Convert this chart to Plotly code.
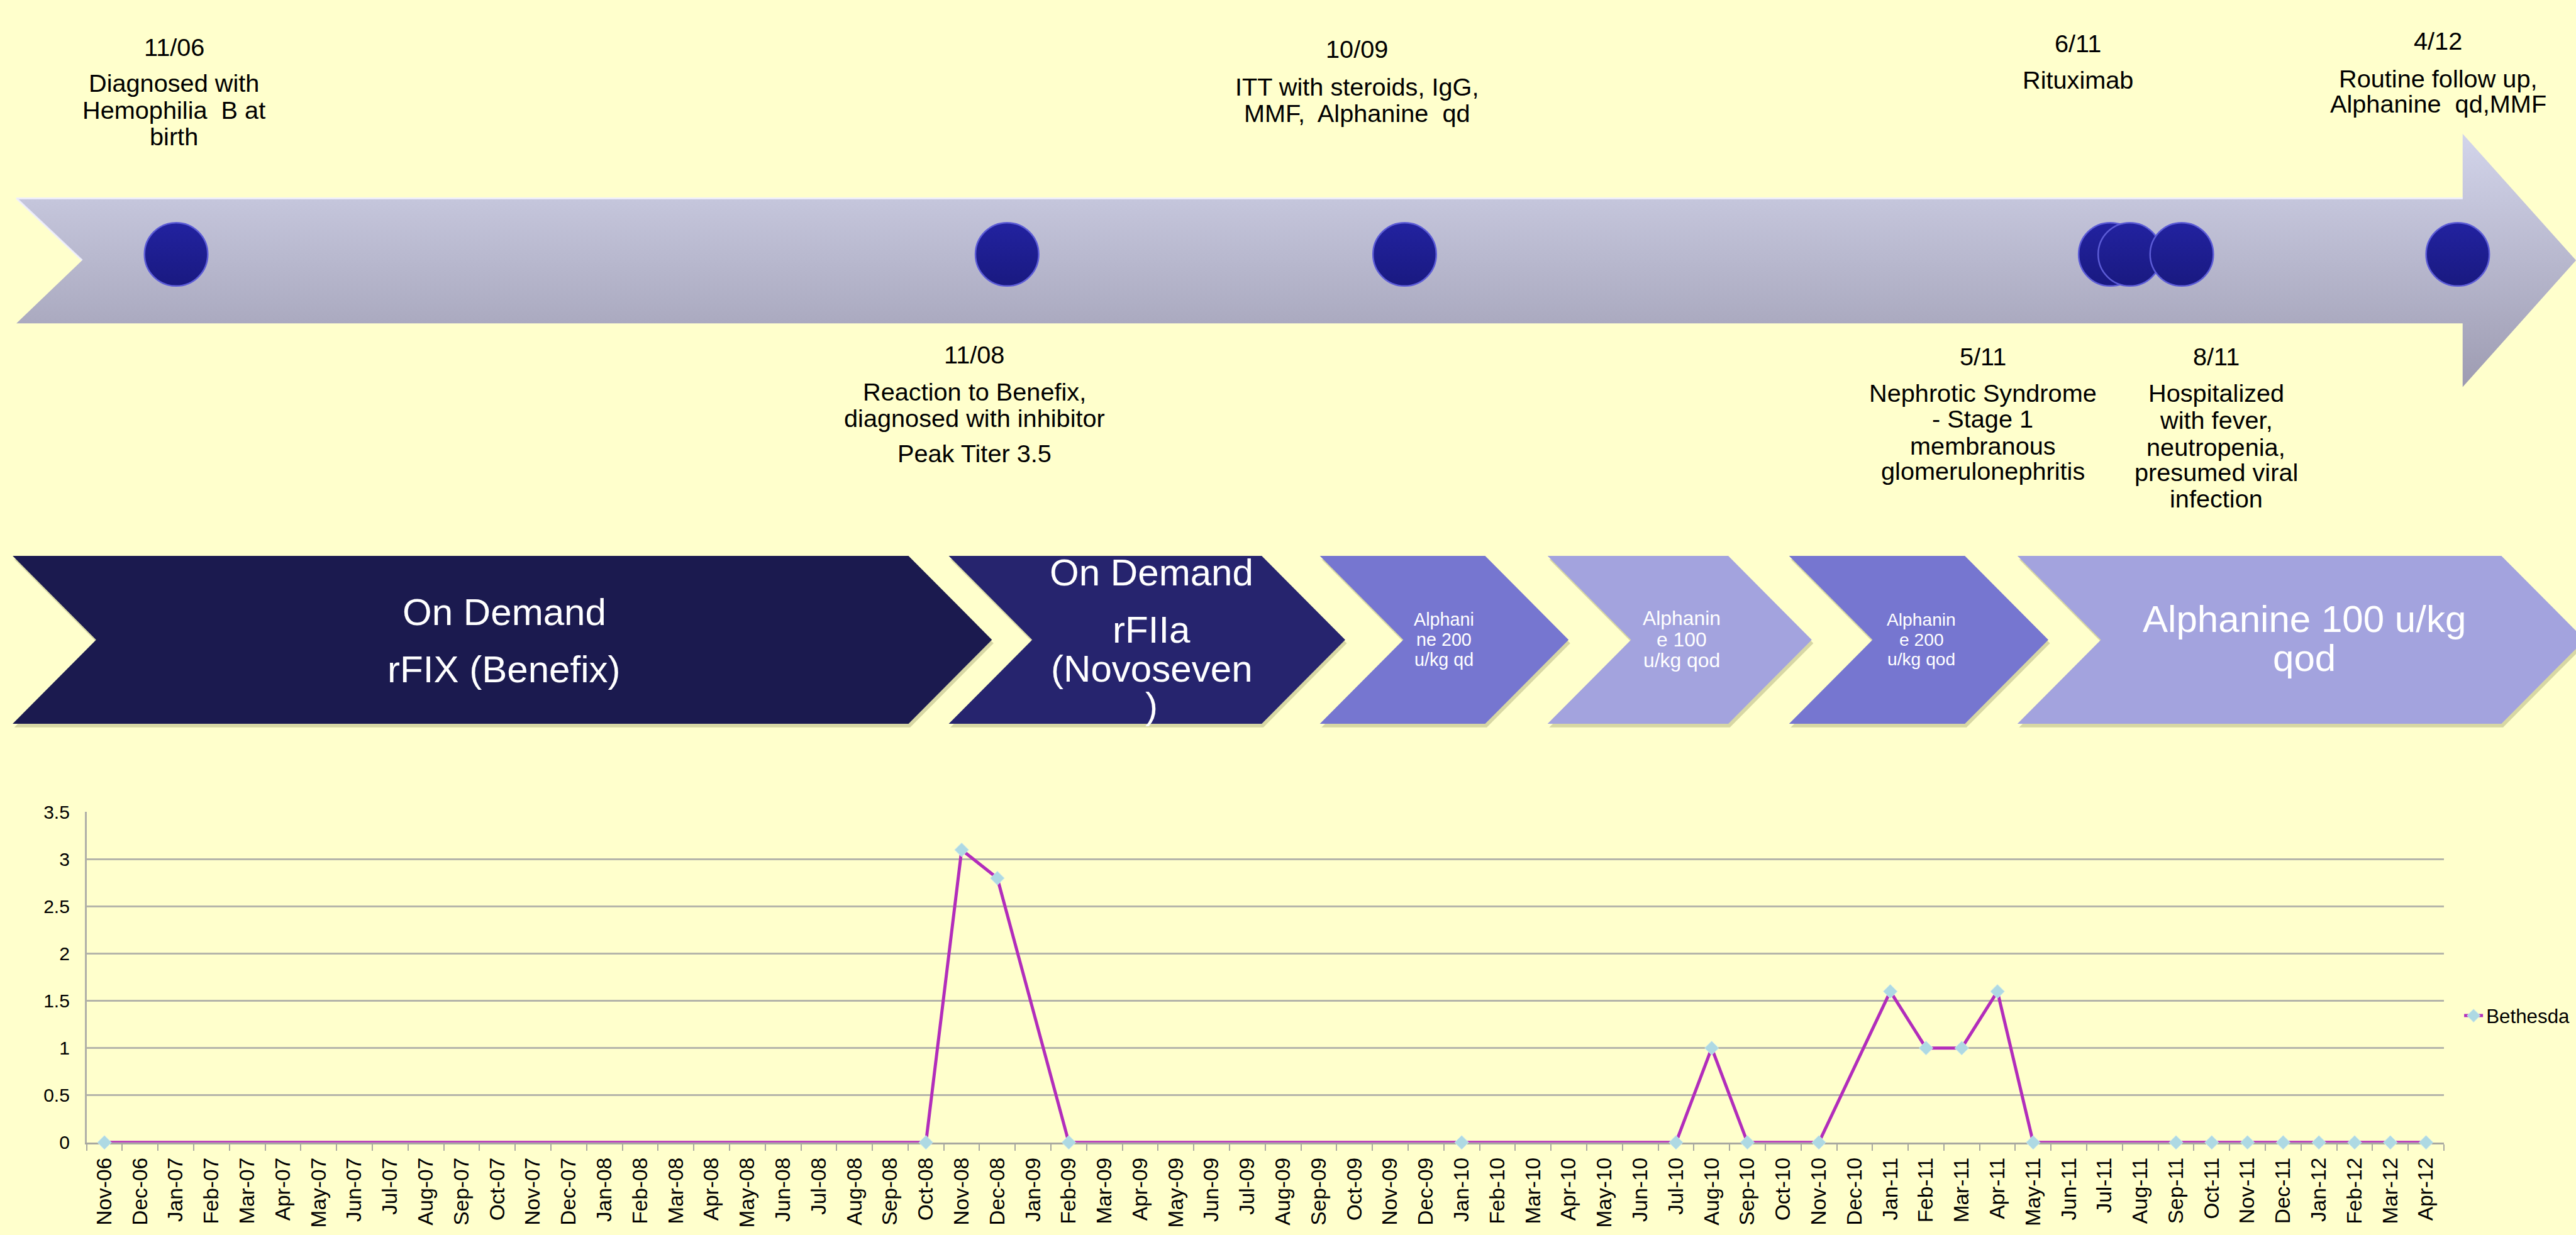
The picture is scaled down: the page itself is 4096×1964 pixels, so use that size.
import plotly.graph_objects as go

# ---------------- figure geometry (design units = 1568 x 752) ----------------
W, H = 4096, 1964
SW, SH = 1568.0, 752.0
K = W / SW
FONT = "Liberation Sans, Arial, sans-serif"
BG = "#FFFFCC"

# ---------------- data ----------------
months = ["Nov-06", "Dec-06", "Jan-07", "Feb-07", "Mar-07", "Apr-07", "May-07", "Jun-07",
          "Jul-07", "Aug-07", "Sep-07", "Oct-07", "Nov-07", "Dec-07", "Jan-08", "Feb-08",
          "Mar-08", "Apr-08", "May-08", "Jun-08", "Jul-08", "Aug-08", "Sep-08", "Oct-08",
          "Nov-08", "Dec-08", "Jan-09", "Feb-09", "Mar-09", "Apr-09", "May-09", "Jun-09",
          "Jul-09", "Aug-09", "Sep-09", "Oct-09", "Nov-09", "Dec-09", "Jan-10", "Feb-10",
          "Mar-10", "Apr-10", "May-10", "Jun-10", "Jul-10", "Aug-10", "Sep-10", "Oct-10",
          "Nov-10", "Dec-10", "Jan-11", "Feb-11", "Mar-11", "Apr-11", "May-11", "Jun-11",
          "Jul-11", "Aug-11", "Sep-11", "Oct-11", "Nov-11", "Dec-11", "Jan-12", "Feb-12",
          "Mar-12", "Apr-12"]

test_months = ["Nov-06", "Oct-08", "Nov-08", "Dec-08", "Feb-09", "Jan-10", "Jul-10", "Aug-10",
               "Sep-10", "Nov-10", "Jan-11", "Feb-11", "Mar-11", "Apr-11", "May-11", "Sep-11",
               "Oct-11", "Nov-11", "Dec-11", "Jan-12", "Feb-12", "Mar-12", "Apr-12"]
bethesda = [0, 0, 3.1, 2.8, 0, 0, 0, 1, 0, 0, 1.6, 1, 1, 1.6, 0, 0, 0, 0, 0, 0, 0, 0, 0]
series_name = "Bethesda"
y_ticks = [0, 0.5, 1, 1.5, 2, 2.5, 3, 3.5]
y_ticktext = ["0", "0.5", "1", "1.5", "2", "2.5", "3", "3.5"]

# timeline events (above / below the arrow)
event_dates = ["11/06", "11/08", "10/09", "5/11", "6/11", "8/11", "4/12"]
event_text = [
    ["Diagnosed with", "Hemophilia  B at", "birth"],
    ["Reaction to Benefix,", "diagnosed with inhibitor", "Peak Titer 3.5"],
    ["ITT with steroids, IgG,", "MMF,  Alphanine  qd"],
    ["Nephrotic Syndrome", "- Stage 1", "membranous", "glomerulonephritis"],
    ["Rituximab"],
    ["Hospitalized", "with fever,", "neutropenia,", "presumed viral", "infection"],
    ["Routine follow up,", "Alphanine  qd,MMF"],
]

# treatment phases
phase_text = [
    ["On Demand", "rFIX (Benefix)"],
    ["On Demand", "rFIIa", "(Novoseven", ")"],
    ["Alphani", "ne 200", "u/kg qd"],
    ["Alphanin", "e 100", "u/kg qod"],
    ["Alphanin", "e 200", "u/kg qod"],
    ["Alphanine 100 u/kg", "qod"],
]

# ---------------- layout constants (design units) ----------------
event_pos = [
    (106, 23.0, [45.2, 62.0, 78.4]),
    (593, 213.3, [236.3, 252.6, 274.6]),
    (826, 24.2, [47.4, 63.9]),
    (1207, 214.6, [237.0, 253.2, 270.0, 285.6]),
    (1265, 20.8, [43.4]),
    (1349, 214.6, [237.0, 254.0, 270.6, 286.4, 302.6]),
    (1484, 19.0, [42.4, 58.2]),
]
dot_x = [107.2, 613, 855, 1284.5, 1296.4, 1328, 1496]
dot_y = 151.3

top, bot, mid = 338.0, 442.0, 390.0
depth = 50.8
phase_left = [7.7, 577.5, 803.4, 942.0, 1089.0, 1228.0]
phase_right = [553.0, 768.0, 904.0, 1052.0, 1196.0, 1522.6]
phase_color = ["#1B1A4F", "#26246E", "#7676D0", "#A3A3DE", "#7676D0", "#A3A3DE"]
phase_font = [23, 23, 11, 12.2, 10.8, 23]
phase_cx = [307, 701, 879, 1023.5, 1169.6, 1402.7]
phase_ly = [
    [372.7, 408.2],
    [348.5, 383.8, 408.0, 431.0],
    [377.5, 390.0, 402.2],
    [376.6, 389.7, 402.7],
    [377.3, 389.9, 401.9],
    [377.0, 401.4],
]

fig = go.Figure()

# ---------------- bottom line chart ----------------
fig.add_trace(go.Scatter(
    x=test_months, y=bethesda, name=series_name, mode="lines+markers",
    line=dict(color="#B22DBB", width=5),
    marker=dict(symbol="diamond", size=17, color="#AED9E3",
                line=dict(width=1, color="#C9E8EE")),
    xaxis="x", yaxis="y", showlegend=True, cliponaxis=False,
))

# ---------------- diagram overlay (x2 / y2 in design units) ----------------
ax = [10, 1499, 1499, 1568, 1499, 1499, 10, 50, 10]
ay = [116.6, 116.6, 76.6, 155, 233.5, 194, 194, 155, 116.6]
fig.add_trace(go.Scatter(
    x=ax, y=ay, mode="lines", fill="toself", line=dict(width=0, color="rgba(0,0,0,0)"),
    fillgradient=dict(type="vertical",
                      colorscale=[[0, "rgb(156,154,176)"], [1, "rgb(210,212,234)"]],
                      start=233.5, stop=76.6),
    xaxis="x2", yaxis="y2", showlegend=False, hoverinfo="skip",
))
fig.add_trace(go.Scatter(
    x=[50, 10, 1499], y=[155, 116.6, 116.6], mode="lines",
    line=dict(width=3, color="rgba(240,240,255,0.85)"),
    xaxis="x2", yaxis="y2", showlegend=False, hoverinfo="skip",
))
fig.add_trace(go.Scatter(
    x=dot_x, y=[dot_y] * len(dot_x), mode="markers",
    marker=dict(size=38.5 * K, color="#2222A0",
                gradient=dict(type="vertical", color="#191980"),
                line=dict(width=2.5, color="#5C5CD6")),
    xaxis="x2", yaxis="y2", showlegend=False, hoverinfo="skip",
))

for i in range(len(phase_left)):
    L, R = phase_left[i], phase_right[i]
    xs = [L, R, R + depth, R, L, L + depth, L]
    ys = [top, top, mid, bot, bot, mid, top]
    fig.add_trace(go.Scatter(
        x=[v + 1.0 for v in xs], y=[v + 2.2 for v in ys], mode="lines", fill="toself",
        fillcolor="rgba(110,110,60,0.28)", line=dict(width=0, color="rgba(0,0,0,0)"),
        xaxis="x2", yaxis="y2", showlegend=False, hoverinfo="skip",
    ))
    fig.add_trace(go.Scatter(
        x=xs, y=ys, mode="lines", fill="toself",
        fillcolor=phase_color[i], line=dict(width=0, color="rgba(0,0,0,0)"),
        xaxis="x2", yaxis="y2", showlegend=False, hoverinfo="skip",
    ))

annotations = []


def ann(x, y, text, size, color):
    return dict(x=x, y=y, xref="x2", yref="y2", text=text, showarrow=False,
                xanchor="center", yanchor="middle",
                font=dict(family=FONT, size=size * K, color=color))


for i, (cx, dy, lys) in enumerate(event_pos):
    annotations.append(ann(cx, dy, event_dates[i], 15.2, "#000000"))
    for line_txt, ly in zip(event_text[i], lys):
        annotations.append(ann(cx, ly, line_txt, 15.2, "#000000"))

for i in range(len(phase_text)):
    for line_txt, ly in zip(phase_text[i], phase_ly[i]):
        annotations.append(ann(phase_cx[i], ly, line_txt, phase_font[i], "#FFFFFF"))

# ---------------- layout ----------------
plot_left, plot_right = 52.7, 1487.6
y0_px, y35_px = 701.3, 496.7

fig.update_layout(
    width=W, height=H,
    margin=dict(l=0, r=0, t=0, b=0, pad=0),
    paper_bgcolor=BG, plot_bgcolor="rgba(0,0,0,0)",
    font=dict(family=FONT, color="#000000"),
    annotations=annotations,
    showlegend=True,
    legend=dict(x=1498.0 / SW, y=1 - 622.8 / SH, xanchor="left", yanchor="middle",
                bgcolor="rgba(0,0,0,0)", borderwidth=0,
                font=dict(family=FONT, size=12 * K, color="#000000"),
                itemwidth=30),
    xaxis=dict(
        domain=[plot_left / SW, plot_right / SW], anchor="y",
        type="category", categoryorder="array", categoryarray=months,
        range=[-0.5, len(months) - 0.5],
        tickmode="array", tickvals=months, ticktext=months,
        tickangle=-90, tickson="boundaries", ticks="outside", ticklen=10,
        tickwidth=2, tickcolor="#A8A8A0", ticklabelstandoff=8,
        tickfont=dict(family=FONT, size=12.8 * K, color="#000000"),
        showline=True, linecolor="#A8A8A0", linewidth=2.5, layer="below traces",
        showgrid=False, zeroline=False, fixedrange=True,
    ),
    yaxis=dict(
        domain=[1 - y0_px / SH, 1 - y35_px / SH], anchor="x",
        range=[0, 3.5], tickmode="array", tickvals=y_ticks, ticktext=y_ticktext,
        ticks="", tickfont=dict(family=FONT, size=11.5 * K, color="#000000"),
        ticklabelstandoff=18, layer="below traces",
        showline=True, linecolor="#B0B0A8", linewidth=2.5,
        showgrid=True, gridcolor="#B5B5AA", gridwidth=2.8,
        zeroline=False, fixedrange=True,
    ),
    xaxis2=dict(domain=[0, 1], anchor="y2", range=[0, SW], visible=False,
                showgrid=False, zeroline=False, fixedrange=True),
    yaxis2=dict(domain=[0, 1], anchor="x2", range=[SH, 0], visible=False,
                showgrid=False, zeroline=False, fixedrange=True),
)

fig.write_html("out.html")
